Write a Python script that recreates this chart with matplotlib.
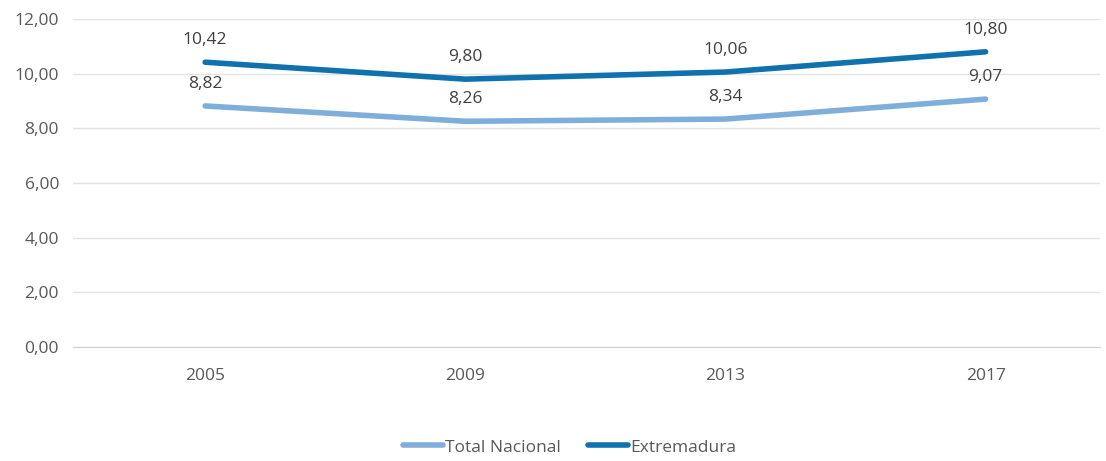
import matplotlib.pyplot as plt

years = ["2005", "2009", "2013", "2017"]
total_nacional = [8.82, 8.26, 8.34, 9.07]
extremadura = [10.42, 9.80, 10.06, 10.80]
y_ticks = [0, 2, 4, 6, 8, 10, 12]

plt.rcParams['font.family'] = ['Open Sans', 'DejaVu Sans']

fig = plt.figure(figsize=(11.06, 4.61), dpi=100)
ax = fig.add_axes([0.066, 0.247, 0.9286, 0.7118])

x = list(range(len(years)))
series = [("Total Nacional", total_nacional, "#7FAEDA"),
          ("Extremadura", extremadura, "#0F71AE")]
for name, vals, col in series:
    ax.plot(x, vals, color=col, linewidth=4, solid_capstyle='round', label=name)
    for xi, v in zip(x, vals):
        ax.annotate(f"{v:.2f}".replace(".", ","), (xi, v), xytext=(0, 10),
                    textcoords='offset points', ha='center', va='bottom',
                    fontsize=12.5, color='#404040')

ax.set_xlim(-0.508, 3.44)
ax.set_ylim(0, 12)
ax.set_yticks(y_ticks)
ax.set_yticklabels([f"{t:.2f}".replace(".", ",") for t in y_ticks])
ax.set_xticks(x)
ax.set_xticklabels(years)
ax.tick_params(length=0, labelsize=12.5, colors='#595959')
ax.tick_params(axis='y', pad=10)
ax.tick_params(axis='x', pad=15)
ax.grid(axis='y', color='#E3E3E3', linewidth=1)
ax.set_axisbelow(True)
for s in ['top', 'right', 'left']:
    ax.spines[s].set_visible(False)
ax.spines['bottom'].set_color('#D0D0D0')

fig.legend(loc='lower center', bbox_to_anchor=(0.515, -0.022), ncol=2, frameon=False,
           fontsize=12.5, handlelength=2.3, handletextpad=0.1, columnspacing=1.6,
           labelcolor='#595959')

fig.savefig("out.png", dpi=100)
